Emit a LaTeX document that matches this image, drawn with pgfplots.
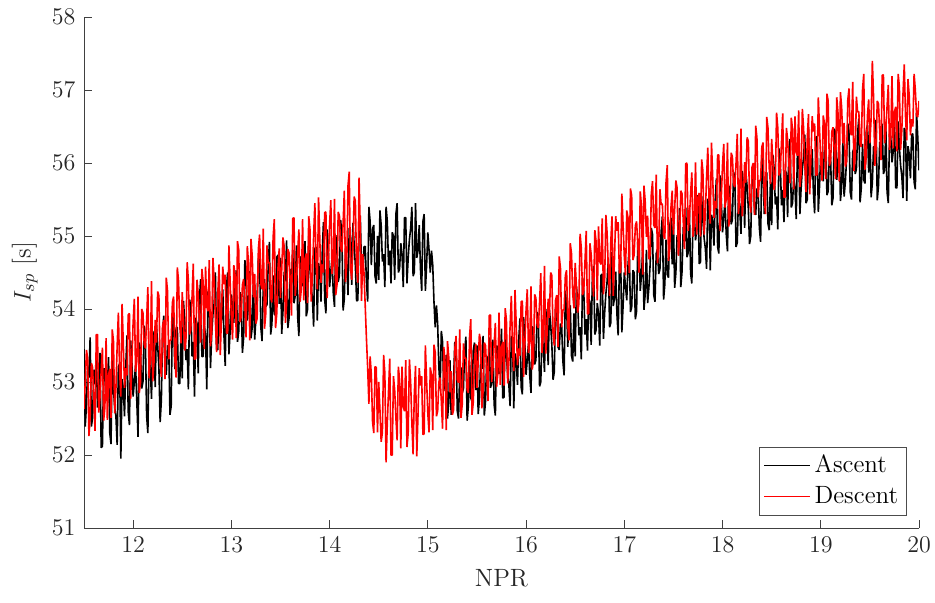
\documentclass[border=0pt]{standalone}
\usepackage{pgfplots}
\pgfplotsset{compat=1.18}
\newcommand{\fs}{\fontsize{12.5}{15}\selectfont}
\begin{document}
\fs
\begin{tikzpicture}
\begin{axis}[name=ax, scale only axis, width=417.5pt, height=255.5pt,
 xmin=11.5, xmax=20, ymin=51, ymax=58,
 xtick={12,13,...,20}, ytick={51,52,...,58},
 axis x line*=bottom, axis y line*=left,
 axis line style={-, black!75},
 tick align=inside, major tick length=4pt, tick style={black!75, line width=0.4pt},
 ticklabel style={color=black!85, font=\fs},
 xlabel={NPR}, ylabel={$I_{sp}$ [s]}, ylabel shift=-1.5pt,
 label style={color=black!85, font=\fs},
 legend style={at={(rel axis cs:0.985,0.024)}, anchor=south east, draw=black!70, font=\fs, row sep=1pt, inner sep=2pt},
 legend cell align=left,
 legend image code/.code={\draw[#1, line width=0.5pt] (0pt,0pt) -- (23pt,0pt);},
]
\addplot[black, line width=0.8pt, line join=bevel] coordinates {
(11.5,53.45)(11.5125,52.39)(11.525,52.68)(11.5375,53.21)(11.55,53.06)(11.5625,53.61)(11.575,52.39)(11.5875,52.51)(11.6,53.17)(11.6125,52.97)(11.625,53.40)(11.6375,52.65)(11.65,52.72)(11.6625,53.40)(11.675,52.10)(11.6875,52.12)(11.7,53.18)(11.7125,53.18)(11.725,52.76)(11.7375,52.92)(11.75,53.34)(11.7625,52.30)(11.775,52.15)(11.7875,53.36)(11.8,52.90)(11.8125,52.65)(11.825,52.53)(11.8375,52.14)(11.85,53.21)(11.8625,53.25)(11.875,51.95)(11.8875,53.04)(11.9,52.92)(11.9125,52.53)(11.925,53.20)(11.9375,53.64)(11.95,52.59)(11.9625,52.41)(11.975,53.57)(11.9875,53.28)
(12,52.80)(12.0125,53.01)(12.025,53.23)(12.0375,52.74)(12.05,52.25)(12.0625,53.54)(12.075,53.43)(12.0875,52.91)(12.1,53.00)(12.1125,53.77)(12.125,53.58)(12.1375,52.54)(12.15,52.30)(12.1625,53.40)(12.175,53.18)(12.1875,52.77)(12.2,53.70)(12.2125,53.57)(12.225,52.93)(12.2375,53.78)(12.25,53.50)(12.2625,53.20)(12.275,52.45)(12.2875,52.75)(12.3,53.70)(12.3125,53.91)(12.325,53.18)(12.3375,53.10)(12.35,53.50)(12.3625,53.48)(12.375,52.55)(12.3875,52.67)(12.4,53.95)(12.4125,53.83)(12.425,53.18)(12.4375,53.74)(12.45,53.75)(12.4625,52.98)(12.475,52.98)(12.4875,53.67)
(12.5,53.05)(12.5125,54.11)(12.525,53.83)(12.5375,53.30)(12.55,53.45)(12.5625,52.90)(12.575,54.13)(12.5875,54.01)(12.6,53.35)(12.6125,53.55)(12.625,52.80)(12.6375,53.88)(12.65,53.80)(12.6625,53.12)(12.675,54.13)(12.6875,54.41)(12.7,53.35)(12.7125,53.35)(12.725,53.78)(12.7375,53.62)(12.75,52.90)(12.7625,54.24)(12.775,54.18)(12.7875,53.19)(12.8,53.65)(12.8125,53.93)(12.825,54.08)(12.8375,54.50)(12.85,53.45)(12.8625,53.44)(12.875,54.48)(12.8875,53.71)(12.9,53.85)(12.9125,54.27)(12.925,53.63)(12.9375,53.22)(12.95,54.30)(12.9625,54.50)(12.975,53.38)(12.9875,53.69)
(13,54.20)(13.0125,54.01)(13.025,53.81)(13.0375,54.32)(13.05,54.53)(13.0625,53.55)(13.075,53.69)(13.0875,54.23)(13.1,54.15)(13.1125,53.40)(13.125,53.61)(13.1375,54.67)(13.15,54.53)(13.1625,53.84)(13.175,54.09)(13.1875,54.52)(13.2,53.60)(13.2125,53.75)(13.225,54.41)(13.2375,53.58)(13.25,53.88)(13.2625,54.19)(13.275,54.69)(13.2875,54.69)(13.3,53.75)(13.3125,53.56)(13.325,54.31)(13.3375,54.41)(13.35,54.03)(13.3625,54.06)(13.375,54.59)(13.3875,54.92)(13.4,53.65)(13.4125,53.79)(13.425,54.46)(13.4375,53.92)(13.45,53.93)(13.4625,54.71)(13.475,54.74)(13.4875,54.07)
(13.5,54.70)(13.5125,53.66)(13.525,53.96)(13.5375,54.51)(13.55,54.38)(13.5625,54.94)(13.575,53.74)(13.5875,53.88)(13.6,54.55)(13.6125,54.37)(13.625,54.81)(13.6375,54.08)(13.65,54.18)(13.6625,54.87)(13.675,53.89)(13.6875,53.63)(13.7,54.70)(13.7125,54.72)(13.725,54.31)(13.7375,54.49)(13.75,54.93)(13.7625,53.90)(13.775,53.99)(13.7875,55.00)(13.8,54.55)(13.8125,54.29)(13.825,54.16)(13.8375,53.76)(13.85,54.83)(13.8625,54.85)(13.875,53.84)(13.8875,54.63)(13.9,54.50)(13.9125,54.10)(13.925,54.76)(13.9375,55.19)(13.95,54.13)(13.9625,53.94)(13.975,55.09)(13.9875,54.80)
(14,54.30)(14.0125,54.51)(14.025,54.71)(14.0375,54.22)(14.05,54.03)(14.0625,55.01)(14.075,54.89)(14.0875,54.37)(14.1,54.46)(14.1125,55.22)(14.125,55.02)(14.1375,53.98)(14.15,54.14)(14.1625,54.83)(14.175,54.60)(14.1875,54.19)(14.2,55.11)(14.2125,54.98)(14.225,54.33)(14.2375,55.18)(14.25,54.89)(14.2625,54.59)(14.275,54.11)(14.2875,54.12)(14.3,55.07)(14.3125,55.28)(14.325,54.54)(14.3375,54.45)(14.35,54.85)(14.3625,54.86)(14.375,54.38)(14.3875,54.10)(14.4,55.40)(14.4125,55.20)(14.425,54.60)(14.4375,55.10)(14.45,55.15)(14.4625,54.45)(14.475,54.35)(14.4875,55.00)
(14.5,54.40)(14.5125,55.35)(14.525,55.15)(14.5375,54.65)(14.55,54.75)(14.5625,54.30)(14.575,55.40)(14.5875,55.20)(14.6,54.60)(14.6125,54.80)(14.625,54.35)(14.6375,55.05)(14.65,55.00)(14.6625,54.40)(14.675,55.30)(14.6875,55.45)(14.7,54.50)(14.7125,54.55)(14.725,54.90)(14.7375,54.75)(14.75,54.30)(14.7625,55.25)(14.775,55.25)(14.7875,54.35)(14.8,54.70)(14.8125,54.95)(14.825,55.10)(14.8375,55.40)(14.85,54.45)(14.8625,54.50)(14.875,55.45)(14.8875,54.70)(14.9,54.80)(14.9125,55.15)(14.925,54.55)(14.9375,54.25)(14.95,55.20)(14.9625,55.30)(14.975,54.25)(14.9875,54.60)
(15,55.05)(15.0125,54.80)(15.025,54.50)(15.0375,54.80)(15.05,54.60)(15.0625,54.10)(15.075,53.75)(15.0875,54.05)(15.1,53.80)(15.1125,53.20)(15.125,52.90)(15.1375,53.70)(15.15,53.55)(15.1625,52.88)(15.175,53.05)(15.1875,53.37)(15.2,52.50)(15.2125,52.70)(15.225,53.30)(15.2375,52.55)(15.25,52.75)(15.2625,53.05)(15.275,53.55)(15.2875,53.45)(15.3,52.60)(15.3125,52.50)(15.325,53.15)(15.3375,53.20)(15.35,52.85)(15.3625,52.91)(15.375,53.42)(15.3875,53.62)(15.4,52.47)(15.4125,52.67)(15.425,53.28)(15.4375,52.78)(15.45,52.73)(15.4625,53.43)(15.475,53.54)(15.4875,52.89)
(15.5,53.50)(15.5125,52.56)(15.525,52.76)(15.5375,53.27)(15.55,53.18)(15.5625,53.63)(15.575,52.54)(15.5875,52.74)(15.6,53.35)(15.6125,53.16)(15.625,53.61)(15.6375,52.92)(15.65,52.98)(15.6625,53.58)(15.675,52.69)(15.6875,52.54)(15.7,53.50)(15.7125,53.46)(15.725,53.11)(15.7375,53.27)(15.75,53.73)(15.7625,52.78)(15.775,52.79)(15.7875,53.69)(15.8,53.35)(15.8125,53.11)(15.825,52.96)(15.8375,52.67)(15.85,53.63)(15.8625,53.58)(15.875,52.64)(15.8875,53.39)(15.9,53.30)(15.9125,52.96)(15.925,53.56)(15.9375,53.87)(15.95,52.93)(15.9625,52.83)(15.975,53.89)(15.9875,53.54)
(16,53.10)(16.0125,53.31)(16.025,53.53)(16.0375,53.09)(16.05,52.85)(16.0625,53.76)(16.075,53.73)(16.0875,53.24)(16.1,53.30)(16.1125,53.96)(16.125,53.88)(16.1375,52.94)(16.15,53.00)(16.1625,53.66)(16.175,53.48)(16.1875,53.14)(16.2,54.00)(16.2125,53.81)(16.225,53.23)(16.2375,53.99)(16.25,53.80)(16.2625,53.51)(16.275,53.03)(16.2875,53.14)(16.3,54.00)(16.3125,54.11)(16.325,53.48)(16.3375,53.44)(16.35,53.80)(16.3625,53.76)(16.375,53.28)(16.3875,53.09)(16.4,54.25)(16.4125,54.06)(16.425,53.48)(16.4375,53.99)(16.45,54.05)(16.4625,53.36)(16.475,53.28)(16.4875,53.94)
(16.5,53.35)(16.5125,54.31)(16.525,54.13)(16.5375,53.64)(16.55,53.75)(16.5625,53.31)(16.575,54.43)(16.5875,54.24)(16.6,53.65)(16.6125,53.86)(16.625,53.43)(16.6375,54.14)(16.65,54.10)(16.6625,53.51)(16.675,54.43)(16.6875,54.59)(16.7,53.65)(16.7125,53.71)(16.725,54.08)(16.7375,53.94)(16.75,53.50)(16.7625,54.46)(16.775,54.48)(16.7875,53.59)(16.8,53.95)(16.8125,54.21)(16.825,54.38)(16.8375,54.69)(16.85,53.75)(16.8625,53.81)(16.875,54.78)(16.8875,54.04)(16.9,54.15)(16.9125,54.51)(16.925,53.93)(16.9375,53.64)(16.95,54.60)(16.9625,54.71)(16.975,53.68)(16.9875,54.04)
(17,54.50)(17.0125,54.31)(17.025,54.12)(17.0375,54.59)(17.05,54.85)(17.0625,53.96)(17.075,54.02)(17.0875,54.53)(17.1,54.50)(17.1125,53.86)(17.125,53.97)(17.1375,54.93)(17.15,54.89)(17.1625,54.25)(17.175,54.47)(17.1875,54.83)(17.2,53.99)(17.2125,54.20)(17.225,54.81)(17.2375,54.08)(17.25,54.29)(17.2625,54.60)(17.275,55.11)(17.2875,55.02)(17.3,54.19)(17.3125,54.10)(17.325,54.76)(17.3375,54.82)(17.35,54.48)(17.3625,54.54)(17.375,55.06)(17.3875,55.27)(17.4,54.13)(17.4125,54.34)(17.425,54.95)(17.4375,54.47)(17.45,54.43)(17.4625,55.14)(17.475,55.25)(17.4875,54.61)
(17.5,55.23)(17.5125,54.29)(17.525,54.50)(17.5375,55.01)(17.55,54.92)(17.5625,55.38)(17.575,54.30)(17.5875,54.51)(17.6,55.12)(17.6125,54.93)(17.625,55.39)(17.6375,54.71)(17.65,54.77)(17.6625,55.38)(17.675,54.49)(17.6875,54.35)(17.7,55.32)(17.7125,55.28)(17.725,54.94)(17.7375,55.10)(17.75,55.56)(17.7625,54.62)(17.775,54.64)(17.7875,55.55)(17.8,55.21)(17.8125,54.97)(17.825,54.83)(17.8375,54.55)(17.85,55.51)(17.8625,55.47)(17.875,54.53)(17.8875,55.29)(17.9,55.21)(17.9125,54.87)(17.925,55.48)(17.9375,55.79)(17.95,54.85)(17.9625,54.76)(17.975,55.83)(17.9875,55.49)
(18,55.05)(18.0125,55.26)(18.025,55.47)(18.0375,55.03)(18.05,54.79)(18.0625,55.69)(18.075,55.65)(18.0875,55.16)(18.1,55.22)(18.1125,55.88)(18.125,55.79)(18.1375,54.85)(18.15,54.91)(18.1625,55.56)(18.175,55.37)(18.1875,55.03)(18.2,55.89)(18.2125,55.70)(18.225,55.11)(18.2375,55.87)(18.25,55.68)(18.2625,55.38)(18.275,54.89)(18.2875,55.00)(18.3,55.86)(18.3125,55.97)(18.325,55.33)(18.3375,55.29)(18.35,55.65)(18.3625,55.60)(18.375,55.11)(18.3875,54.92)(18.4,56.08)(18.4125,55.89)(18.425,55.30)(18.4375,55.81)(18.45,55.87)(18.4625,55.17)(18.475,55.08)(18.4875,55.74)
(18.5,55.15)(18.5125,56.11)(18.525,55.92)(18.5375,55.43)(18.55,55.54)(18.5625,55.09)(18.575,56.20)(18.5875,56.01)(18.6,55.42)(18.6125,55.63)(18.625,55.19)(18.6375,55.90)(18.65,55.86)(18.6625,55.26)(18.675,56.17)(18.6875,56.33)(18.7,55.39)(18.7125,55.45)(18.725,55.81)(18.7375,55.67)(18.75,55.23)(18.7625,56.18)(18.775,56.19)(18.7875,55.30)(18.8,55.66)(18.8125,55.92)(18.825,56.08)(18.8375,56.39)(18.85,55.45)(18.8625,55.50)(18.875,56.46)(18.8875,55.72)(18.9,55.83)(18.9125,56.19)(18.925,55.60)(18.9375,55.31)(18.95,56.27)(18.9625,56.37)(18.975,55.33)(18.9875,55.69)
(19,56.15)(19.0125,55.95)(19.025,55.75)(19.0375,56.21)(19.05,56.46)(19.0625,55.56)(19.075,55.61)(19.0875,56.11)(19.1,56.07)(19.1125,55.42)(19.125,55.52)(19.1375,56.47)(19.15,56.42)(19.1625,55.77)(19.175,55.98)(19.1875,56.33)(19.2,55.48)(19.2125,55.68)(19.225,56.28)(19.2375,55.54)(19.25,55.74)(19.2625,56.04)(19.275,56.54)(19.2875,56.44)(19.3,55.60)(19.3125,55.50)(19.325,56.15)(19.3375,56.20)(19.35,55.85)(19.3625,55.91)(19.375,56.41)(19.3875,56.61)(19.4,55.46)(19.4125,55.66)(19.425,56.26)(19.4375,55.77)(19.45,55.72)(19.4625,56.42)(19.475,56.52)(19.4875,55.87)
(19.5,56.48)(19.5125,55.53)(19.525,55.73)(19.5375,56.23)(19.55,56.13)(19.5625,56.59)(19.575,55.49)(19.5875,55.69)(19.6,56.29)(19.6125,56.09)(19.625,56.54)(19.6375,55.85)(19.65,55.90)(19.6625,56.50)(19.675,55.60)(19.6875,55.45)(19.7,56.40)(19.7125,56.36)(19.725,56.01)(19.7375,56.16)(19.75,56.61)(19.7625,55.66)(19.775,55.66)(19.7875,56.57)(19.8,56.22)(19.8125,55.97)(19.825,55.82)(19.8375,55.52)(19.85,56.48)(19.8625,56.43)(19.875,55.48)(19.8875,56.23)(19.9,56.13)(19.9125,55.79)(19.925,56.39)(19.9375,56.40)(19.95,55.74)(19.9625,55.64)(19.975,56.69)(19.9875,56.35)(20,55.90)
};
\addlegendentry{Ascent}
\addplot[red, line width=0.8pt, line join=bevel] coordinates {
(11.5,52.63)(11.5125,53.00)(11.525,53.44)(11.5375,53.32)(11.55,52.26)(11.5625,52.51)(11.575,53.26)(11.5875,53.20)(11.6,52.77)(11.6125,52.33)(11.625,53.65)(11.6375,53.65)(11.65,52.58)(11.6625,52.78)(11.675,53.16)(11.6875,53.47)(11.7,52.47)(11.7125,52.65)(11.725,53.60)(11.7375,52.48)(11.75,53.10)(11.7625,53.18)(11.775,52.51)(11.7875,53.72)(11.8,53.56)(11.8125,52.57)(11.825,52.91)(11.8375,53.49)(11.85,53.95)(11.8625,53.15)(11.875,52.80)(11.8875,54.07)(11.9,53.53)(11.9125,52.92)(11.925,53.19)(11.9375,53.09)(11.95,53.92)(11.9625,53.94)(11.975,52.77)(11.9875,53.29)
(12,53.81)(12.0125,54.14)(12.025,53.14)(12.0375,53.28)(12.05,54.17)(12.0625,52.85)(12.075,52.99)(12.0875,54.00)(12.1,53.95)(12.1125,53.52)(12.125,53.46)(12.1375,53.85)(12.15,54.30)(12.1625,53.05)(12.175,53.31)(12.1875,54.38)(12.2,53.01)(12.2125,53.27)(12.225,53.85)(12.2375,53.54)(12.25,54.24)(12.2625,54.18)(12.275,53.25)(12.2875,53.07)(12.3,53.77)(12.3125,53.85)(12.325,53.04)(12.3375,54.43)(12.35,54.25)(12.3625,53.31)(12.375,53.57)(12.3875,53.58)(12.4,54.09)(12.4125,54.17)(12.425,53.30)(12.4375,53.06)(12.45,54.57)(12.4625,54.38)(12.475,53.77)(12.4875,53.53)
(12.5,54.23)(12.5125,53.86)(12.525,53.43)(12.5375,53.57)(12.55,54.64)(12.5625,54.39)(12.575,53.65)(12.5875,53.72)(12.6,54.17)(12.6125,54.62)(12.625,53.31)(12.6375,53.32)(12.65,54.40)(12.6625,54.21)(12.675,53.84)(12.6875,53.54)(12.7,54.55)(12.7125,54.38)(12.725,53.45)(12.7375,54.58)(12.75,54.03)(12.7625,53.97)(12.775,54.67)(12.7875,53.49)(12.8,53.68)(12.8125,54.70)(12.825,54.39)(12.8375,53.84)(12.85,53.41)(12.8625,54.23)(12.875,54.61)(12.8875,53.37)(12.9,53.94)(12.9125,54.58)(12.925,54.34)(12.9375,54.47)(12.95,53.67)(12.9625,53.67)(12.975,54.87)(12.9875,54.38)
(13,53.89)(13.0125,53.58)(13.025,54.60)(13.0375,54.47)(13.05,53.60)(13.0625,54.93)(13.075,54.81)(13.0875,53.82)(13.1,53.89)(13.1125,54.33)(13.125,54.41)(13.1375,54.04)(13.15,53.61)(13.1625,54.86)(13.175,54.62)(13.1875,53.57)(13.2,54.96)(13.2125,54.72)(13.225,54.16)(13.2375,54.48)(13.25,53.80)(13.2625,53.87)(13.275,54.82)(13.2875,55.02)(13.3,54.34)(13.3125,54.27)(13.325,55.10)(13.3375,53.73)(13.35,53.93)(13.3625,54.87)(13.375,54.63)(13.3875,54.64)(13.4,54.15)(13.4125,54.09)(13.425,54.98)(13.4375,55.23)(13.45,53.74)(13.4625,53.94)(13.475,54.57)(13.4875,54.83)
(13.5,54.15)(13.5125,54.53)(13.525,54.98)(13.5375,54.86)(13.55,53.81)(13.5625,54.07)(13.575,54.82)(13.5875,54.77)(13.6,54.34)(13.6125,53.91)(13.625,55.24)(13.6375,55.25)(13.65,54.18)(13.6625,54.38)(13.675,54.77)(13.6875,55.09)(13.7,54.10)(13.7125,54.28)(13.725,55.23)(13.7375,54.12)(13.75,54.69)(13.7625,54.76)(13.775,54.08)(13.7875,55.27)(13.8,55.10)(13.8125,54.10)(13.825,54.43)(13.8375,55.00)(13.85,55.45)(13.8625,54.63)(13.875,54.27)(13.8875,55.53)(13.9,54.98)(13.9125,54.36)(13.925,54.61)(13.9375,54.50)(13.95,55.32)(13.9625,55.33)(13.975,54.15)(13.9875,54.65)
(14,55.16)(14.0125,55.49)(14.025,54.48)(14.0375,54.62)(14.05,55.51)(14.0625,54.19)(14.075,54.33)(14.0875,55.33)(14.1,55.28)(14.1125,54.84)(14.125,54.78)(14.1375,55.17)(14.15,55.62)(14.1625,54.37)(14.175,54.63)(14.1875,55.69)(14.2,55.88)(14.2125,54.57)(14.225,54.40)(14.2375,54.84)(14.25,55.54)(14.2625,55.48)(14.275,54.55)(14.2875,54.36)(14.3,55.80)(14.3125,55.08)(14.325,54.11)(14.3375,54.75)(14.35,54.50)(14.3625,54.05)(14.375,53.60)(14.3875,53.20)(14.4,52.70)(14.4125,53.35)(14.425,53.10)(14.4375,52.45)(14.45,52.30)(14.4625,53.21)(14.475,53.20)(14.4875,52.31)
(14.5,53.00)(14.5125,52.62)(14.525,52.18)(14.5375,52.31)(14.55,53.37)(14.5625,53.12)(14.575,51.90)(14.5875,52.43)(14.6,52.88)(14.6125,53.32)(14.625,52.00)(14.6375,52.00)(14.65,53.08)(14.6625,52.89)(14.675,52.51)(14.6875,52.20)(14.7,53.21)(14.7125,53.03)(14.725,52.09)(14.7375,53.21)(14.75,52.66)(14.7625,52.60)(14.775,53.30)(14.7875,52.11)(14.8,52.30)(14.8125,53.31)(14.825,53.00)(14.8375,52.44)(14.85,52.01)(14.8625,52.84)(14.875,53.22)(14.8875,51.98)(14.9,52.55)(14.9125,53.19)(14.925,52.95)(14.9375,53.08)(14.95,52.28)(14.9625,52.29)(14.975,53.50)(14.9875,53.02)
(15,52.57)(15.0125,52.31)(15.025,53.20)(15.0375,53.10)(15.05,52.34)(15.0625,53.51)(15.075,53.41)(15.0875,52.53)(15.1,52.60)(15.1125,53.00)(15.125,53.06)(15.1375,52.74)(15.15,52.36)(15.1625,53.48)(15.175,53.27)(15.1875,52.34)(15.2,53.56)(15.2125,53.35)(15.225,52.86)(15.2375,53.15)(15.25,52.55)(15.2625,52.62)(15.275,53.46)(15.2875,53.63)(15.3,53.03)(15.3125,52.99)(15.325,53.72)(15.3375,52.51)(15.35,52.69)(15.3625,53.53)(15.375,53.32)(15.3875,53.33)(15.4,52.89)(15.4125,52.85)(15.425,53.63)(15.4375,53.86)(15.45,52.55)(15.4625,52.72)(15.475,53.29)(15.4875,53.52)
(15.5,52.92)(15.5125,53.26)(15.525,53.66)(15.5375,53.56)(15.55,52.64)(15.5625,52.87)(15.575,53.54)(15.5875,53.50)(15.6,53.12)(15.6125,52.74)(15.625,53.91)(15.6375,53.92)(15.65,53.00)(15.6625,53.18)(15.675,53.52)(15.6875,53.81)(15.7,52.93)(15.7125,53.11)(15.725,53.95)(15.7375,52.96)(15.75,53.48)(15.7625,53.55)(15.775,52.95)(15.7875,54.01)(15.8,53.85)(15.8125,52.98)(15.825,53.26)(15.8375,53.77)(15.85,54.18)(15.8625,53.47)(15.875,53.15)(15.8875,54.26)(15.9,53.78)(15.9125,53.23)(15.925,53.46)(15.9375,53.36)(15.95,54.10)(15.9625,54.11)(15.975,53.07)(15.9875,53.52)
(16,53.98)(16.0125,54.27)(16.025,53.40)(16.0375,53.53)(16.05,54.31)(16.0625,53.17)(16.075,53.29)(16.0875,54.20)(16.1,54.15)(16.1125,53.78)(16.125,53.74)(16.1375,54.09)(16.15,54.49)(16.1625,53.40)(16.175,53.63)(16.1875,54.59)(16.2,53.39)(16.2125,53.63)(16.225,54.14)(16.2375,53.88)(16.25,54.50)(16.2625,54.46)(16.275,53.64)(16.2875,53.50)(16.3,54.12)(16.3125,54.19)(16.325,53.48)(16.3375,54.72)(16.35,54.56)(16.3625,53.75)(16.375,53.98)(16.3875,54.00)(16.4,54.46)(16.4125,54.53)(16.425,53.77)(16.4375,53.57)(16.45,54.90)(16.4625,54.76)(16.475,54.21)(16.4875,54.01)
(16.5,54.63)(16.5125,54.32)(16.525,53.95)(16.5375,54.07)(16.55,55.03)(16.5625,54.83)(16.575,54.19)(16.5875,54.25)(16.6,54.66)(16.6125,55.07)(16.625,53.93)(16.6375,53.94)(16.65,54.90)(16.6625,54.75)(16.675,54.44)(16.6875,54.17)(16.7,55.08)(16.7125,54.93)(16.725,54.12)(16.7375,55.13)(16.75,54.65)(16.7625,54.61)(16.775,55.24)(16.7875,54.20)(16.8,54.39)(16.8125,55.29)(16.825,55.04)(16.8375,54.55)(16.85,54.18)(16.8625,54.92)(16.875,55.27)(16.8875,54.18)(16.9,54.69)(16.9125,55.27)(16.925,55.07)(16.9375,55.19)(16.95,54.49)(16.9625,54.51)(16.975,55.58)(16.9875,55.15)
(17,54.72)(17.0125,54.46)(17.025,55.35)(17.0375,55.25)(17.05,54.49)(17.0625,55.65)(17.075,55.55)(17.0875,54.67)(17.1,54.74)(17.1125,55.14)(17.125,55.20)(17.1375,54.88)(17.15,54.50)(17.1625,55.61)(17.175,55.40)(17.1875,54.47)(17.2,55.69)(17.2125,55.48)(17.225,54.99)(17.2375,55.28)(17.25,54.68)(17.2625,54.74)(17.275,55.58)(17.2875,55.75)(17.3,55.15)(17.3125,55.11)(17.325,55.84)(17.3375,54.63)(17.35,54.81)(17.3625,55.64)(17.375,55.43)(17.3875,55.44)(17.4,55.00)(17.4125,54.96)(17.425,55.74)(17.4375,55.97)(17.45,54.66)(17.4625,54.82)(17.475,55.39)(17.4875,55.62)
(17.5,55.02)(17.5125,55.36)(17.525,55.76)(17.5375,55.66)(17.55,54.73)(17.5625,54.95)(17.575,55.62)(17.5875,55.58)(17.6,55.20)(17.6125,54.82)(17.625,55.99)(17.6375,56.00)(17.65,55.07)(17.6625,55.24)(17.675,55.58)(17.6875,55.87)(17.7,54.99)(17.7125,55.17)(17.725,56.01)(17.7375,55.02)(17.75,55.53)(17.7625,55.59)(17.775,54.99)(17.7875,56.05)(17.8,55.89)(17.8125,55.02)(17.825,55.30)(17.8375,55.81)(17.85,56.21)(17.8625,55.49)(17.875,55.17)(17.8875,56.28)(17.9,55.80)(17.9125,55.25)(17.925,55.48)(17.9375,55.38)(17.95,56.11)(17.9625,56.11)(17.975,55.07)(17.9875,55.52)
(18,55.98)(18.0125,56.26)(18.025,55.39)(18.0375,55.50)(18.05,56.28)(18.0625,55.13)(18.075,55.25)(18.0875,56.14)(18.1,56.09)(18.1125,55.71)(18.125,55.67)(18.1375,56.00)(18.15,56.40)(18.1625,55.30)(18.175,55.53)(18.1875,56.47)(18.2,55.27)(18.2125,55.50)(18.225,56.01)(18.2375,55.73)(18.25,56.35)(18.2625,56.30)(18.275,55.48)(18.2875,55.32)(18.3,55.94)(18.3125,56.00)(18.325,55.29)(18.3375,56.51)(18.35,56.35)(18.3625,55.53)(18.375,55.76)(18.3875,55.76)(18.4,56.22)(18.4125,56.28)(18.425,55.52)(18.4375,55.30)(18.45,56.63)(18.4625,56.48)(18.475,55.93)(18.4875,55.71)
(18.5,56.33)(18.5125,56.01)(18.525,55.63)(18.5375,55.74)(18.55,56.69)(18.5625,56.48)(18.575,55.83)(18.5875,55.88)(18.6,56.28)(18.6125,56.68)(18.625,55.53)(18.6375,55.53)(18.65,56.48)(18.6625,56.32)(18.675,56.00)(18.6875,55.72)(18.7,56.62)(18.7125,56.46)(18.725,55.64)(18.7375,56.64)(18.75,56.15)(18.7625,56.10)(18.775,56.72)(18.7875,55.67)(18.8,55.85)(18.8125,56.74)(18.825,56.48)(18.8375,55.98)(18.85,55.60)(18.8625,56.33)(18.875,56.67)(18.8875,55.57)(18.9,56.07)(18.9125,56.64)(18.925,56.43)(18.9375,56.54)(18.95,55.83)(18.9625,55.84)(18.975,56.90)(18.9875,56.46)
(19,56.02)(19.0125,55.76)(19.025,56.65)(19.0375,56.54)(19.05,55.78)(19.0625,56.95)(19.075,56.85)(19.0875,55.96)(19.1,56.03)(19.1125,56.43)(19.125,56.49)(19.1375,56.16)(19.15,55.78)(19.1625,56.90)(19.175,56.69)(19.1875,55.75)(19.2,56.97)(19.2125,56.76)(19.225,56.27)(19.2375,56.55)(19.25,55.95)(19.2625,56.02)(19.275,56.86)(19.2875,57.02)(19.3,56.42)(19.3125,56.38)(19.325,57.11)(19.3375,55.89)(19.35,56.07)(19.3625,56.91)(19.375,56.70)(19.3875,56.70)(19.4,56.26)(19.4125,56.22)(19.425,57.00)(19.4375,57.22)(19.45,55.91)(19.4625,56.08)(19.475,56.65)(19.4875,56.87)
(19.5,56.27)(19.5125,56.61)(19.525,57.40)(19.5375,56.90)(19.55,55.96)(19.5625,56.19)(19.575,56.85)(19.5875,56.81)(19.6,56.42)(19.6125,56.04)(19.625,57.20)(19.6375,57.21)(19.65,56.27)(19.6625,56.45)(19.675,56.78)(19.6875,57.07)(19.7,56.18)(19.7125,56.36)(19.725,57.19)(19.7375,56.20)(19.75,56.70)(19.7625,56.77)(19.775,56.16)(19.7875,57.22)(19.8,57.05)(19.8125,56.18)(19.825,56.45)(19.8375,56.96)(19.85,57.35)(19.8625,56.64)(19.875,56.31)(19.8875,57.15)(19.9,56.93)(19.9125,56.38)(19.925,56.60)(19.9375,56.50)(19.95,57.22)(19.9625,57.00)(19.975,56.65)(19.9875,56.63)(20,56.85)
};
\addlegendentry{Descent}
\end{axis}
\pgfresetboundingbox
\path ([shift={(-42pt,-37pt)}]ax.south west) rectangle ([shift={(8pt,8.5pt)}]ax.north east);
\end{tikzpicture}
\end{document}
